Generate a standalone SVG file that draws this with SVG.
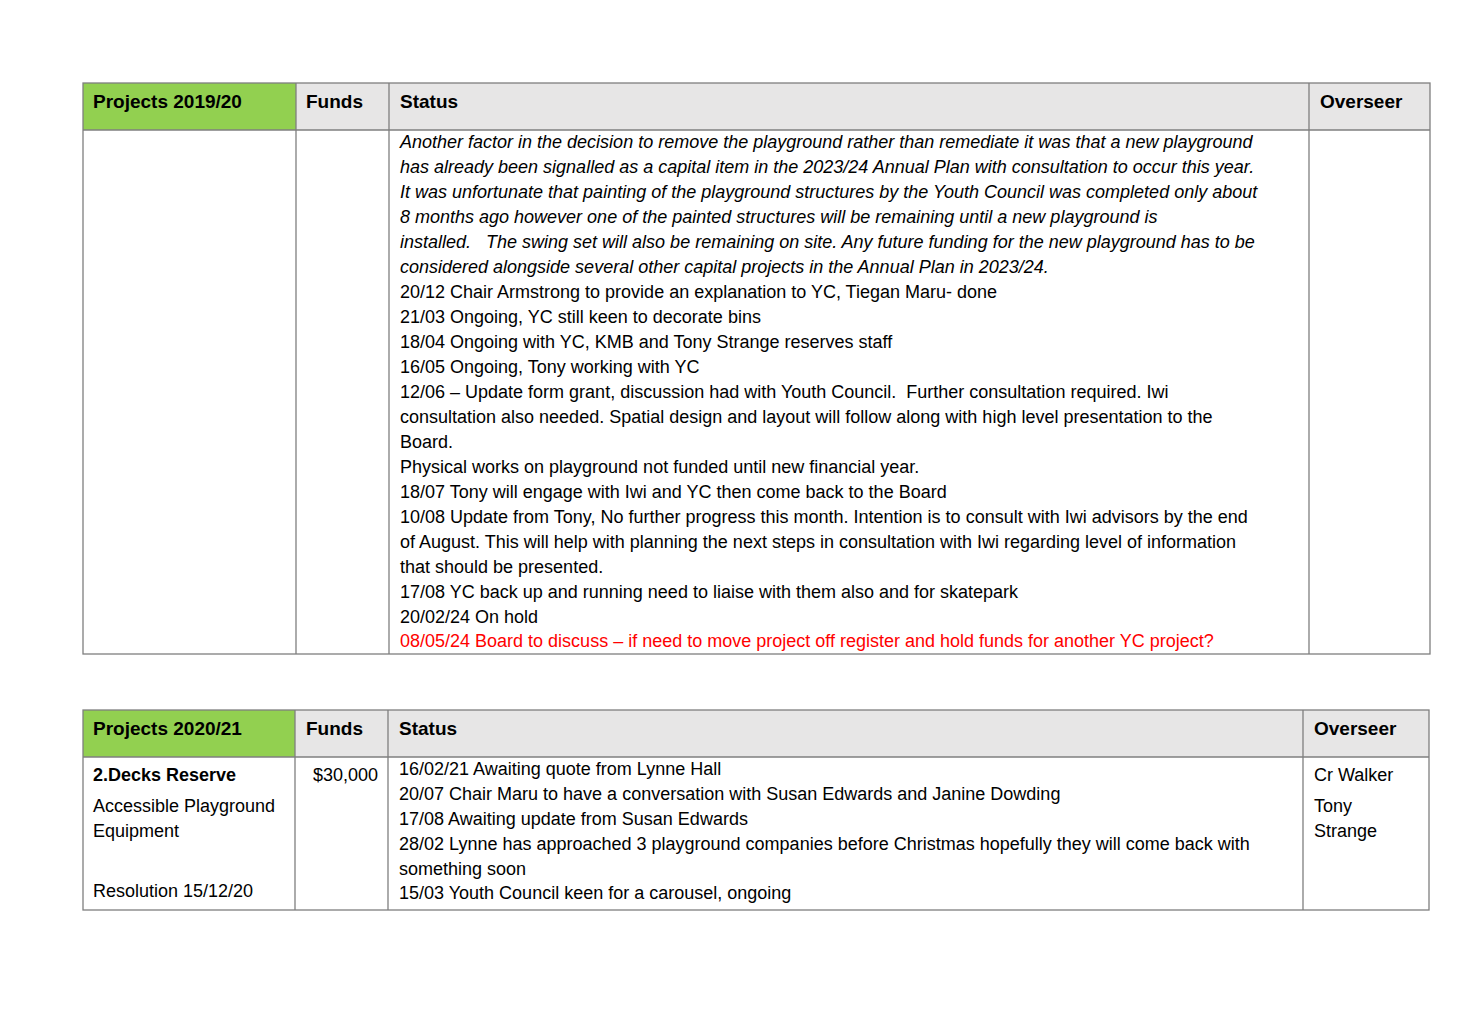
<svg xmlns="http://www.w3.org/2000/svg" width="1476" height="1013" viewBox="0 0 1476 1013">
<style>
text{font-family:"Liberation Sans",Arial,sans-serif;font-size:18px;fill:#000}
.h{font-weight:bold;font-size:19px}
.i{font-style:italic}
.r{fill:#ff0000}
.b{font-weight:bold}
.g{fill:#92D050}
.gr{fill:#E7E6E6}
line,rect.o{stroke:#7f7f7f;stroke-width:1.3;fill:none}
</style>
<rect width="1476" height="1013" fill="#fff"/>
<g id="table1">
<rect class="g" x="83" y="83" width="213" height="47"/>
<rect class="gr" x="296" y="83" width="1134" height="47"/>
<rect class="o" x="83" y="83" width="1347" height="571"/>
<line x1="83" y1="130" x2="1430" y2="130"/>
<line x1="296" y1="83" x2="296" y2="654"/>
<line x1="389" y1="83" x2="389" y2="654"/>
<line x1="1309" y1="83" x2="1309" y2="654"/>
<text class="h" x="93" y="108">Projects 2019/20</text>
<text class="h" x="306" y="108">Funds</text>
<text class="h" x="400" y="108">Status</text>
<text class="h" x="1320" y="108">Overseer</text>
<g>
<text class="i" x="400" y="148">Another factor in the decision to remove the playground rather than remediate it was that a new playground</text>
<text class="i" x="400" y="173">has already been signalled as a capital item in the 2023/24 Annual Plan with consultation to occur this year.</text>
<text class="i" x="400" y="198">It was unfortunate that painting of the playground structures by the Youth Council was completed only about</text>
<text class="i" x="400" y="223">8 months ago however one of the painted structures will be remaining until a new playground is</text>
<text class="i" x="400" y="248" xml:space="preserve">installed.   The swing set will also be remaining on site. Any future funding for the new playground has to be</text>
<text class="i" x="400" y="273">considered alongside several other capital projects in the Annual Plan in 2023/24.</text>
<text x="400" y="298">20/12 Chair Armstrong to provide an explanation to YC, Tiegan Maru- done</text>
<text x="400" y="323">21/03 Ongoing, YC still keen to decorate bins</text>
<text x="400" y="348">18/04 Ongoing with YC, KMB and Tony Strange reserves staff</text>
<text x="400" y="373">16/05 Ongoing, Tony working with YC</text>
<text x="400" y="398" xml:space="preserve">12/06 – Update form grant, discussion had with Youth Council.  Further consultation required. Iwi</text>
<text x="400" y="423">consultation also needed. Spatial design and layout will follow along with high level presentation to the</text>
<text x="400" y="448">Board.</text>
<text x="400" y="473">Physical works on playground not funded until new financial year.</text>
<text x="400" y="498">18/07 Tony will engage with Iwi and YC then come back to the Board</text>
<text x="400" y="523">10/08 Update from Tony, No further progress this month. Intention is to consult with Iwi advisors by the end</text>
<text x="400" y="548">of August. This will help with planning the next steps in consultation with Iwi regarding level of information</text>
<text x="400" y="573">that should be presented.</text>
<text x="400" y="598">17/08 YC back up and running need to liaise with them also and for skatepark</text>
<text x="400" y="623">20/02/24 On hold</text>
<text class="r" x="400" y="647">08/05/24 Board to discuss – if need to move project off register and hold funds for another YC project?</text>
</g>
</g>
<g id="table2">
<rect class="g" x="83" y="710" width="212" height="47"/>
<rect class="gr" x="295" y="710" width="1134" height="47"/>
<rect class="o" x="83" y="710" width="1346" height="200"/>
<line x1="83" y1="757" x2="1429" y2="757"/>
<line x1="295" y1="710" x2="295" y2="910"/>
<line x1="388" y1="710" x2="388" y2="910"/>
<line x1="1303" y1="710" x2="1303" y2="910"/>
<text class="h" x="93" y="735">Projects 2020/21</text>
<text class="h" x="306" y="735">Funds</text>
<text class="h" x="399" y="735">Status</text>
<text class="h" x="1314" y="735">Overseer</text>
<text class="b" x="93" y="781">2.Decks Reserve</text>
<text x="93" y="812">Accessible Playground</text>
<text x="93" y="837">Equipment</text>
<text x="93" y="897">Resolution 15/12/20</text>
<text x="378" y="781" text-anchor="end">$30,000</text>
<text x="399" y="775">16/02/21 Awaiting quote from Lynne Hall</text>
<text x="399" y="800">20/07 Chair Maru to have a conversation with Susan Edwards and Janine Dowding</text>
<text x="399" y="825">17/08 Awaiting update from Susan Edwards</text>
<text x="399" y="850">28/02 Lynne has approached 3 playground companies before Christmas hopefully they will come back with</text>
<text x="399" y="875">something soon</text>
<text x="399" y="899">15/03 Youth Council keen for a carousel, ongoing</text>
<text x="1314" y="781">Cr Walker</text>
<text x="1314" y="812">Tony</text>
<text x="1314" y="837">Strange</text>
</g>
</svg>
